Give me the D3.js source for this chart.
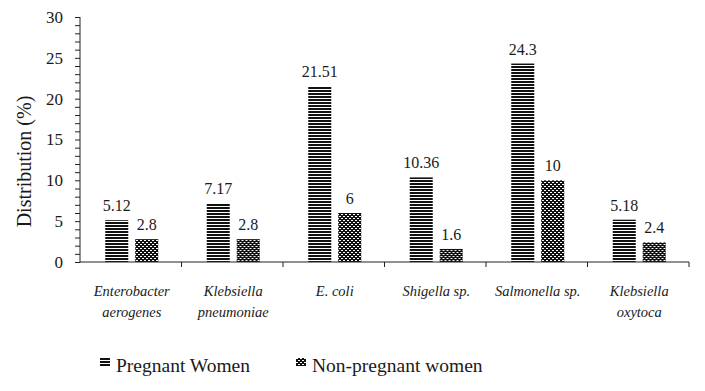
<!DOCTYPE html>
<html>
<head>
<meta charset="utf-8">
<script src="https://cdn.jsdelivr.net/npm/d3@7"></script>
<style>
  body { margin: 0; background: #fff; }
  text { font-family: "Liberation Serif", "Times New Roman", serif; fill: #1a1a1a; }
</style>
</head>
<body>
<svg id="chart"></svg>
<script>
// chart size
const width = 705, height = 391;

// data
const categories = [
  ['Enterobacter', 'aerogenes'],
  ['Klebsiella', 'pneumoniae'],
  ['E. coli'],
  ['Shigella sp.'],
  ['Salmonella sp.'],
  ['Klebsiella', 'oxytoca']
];
const catKeys = categories.map(c => c.join(' '));
const seriesNames = ['Pregnant Women', 'Non-pregnant women'];
const pregnant = [5.12, 7.17, 21.51, 10.36, 24.3, 5.18];
const nonPregnant = [2.8, 2.8, 6, 1.6, 10, 2.4];
const yTicks = [0, 5, 10, 15, 20, 25, 30];

const svg = d3.select('#chart').attr('width', width).attr('height', height);

// patterns for the bars
const defs = svg.append('defs');
const hLines = defs.append('pattern').attr('id', 'hlines')
  .attr('patternUnits', 'userSpaceOnUse').attr('width', 4).attr('height', 3);
hLines.append('rect').attr('width', 4).attr('height', 3).attr('fill', '#fff');
hLines.append('rect').attr('width', 4).attr('height', 2).attr('fill', '#111');

const dots = defs.append('pattern').attr('id', 'dots')
  .attr('patternUnits', 'userSpaceOnUse').attr('width', 4).attr('height', 4);
dots.append('rect').attr('width', 4).attr('height', 4).attr('fill', '#111');
dots.append('rect').attr('x', 0).attr('y', 0).attr('width', 2).attr('height', 1).attr('fill', '#fff');
dots.append('rect').attr('x', 2).attr('y', 2).attr('width', 2).attr('height', 1).attr('fill', '#fff');

const fills = ['url(#hlines)', 'url(#dots)'];

// scales
const x0 = d3.scaleBand().domain(catKeys).range([80, 689]).padding(0);
const groupW = 53;
const x1 = d3.scaleBand().domain(seriesNames)
  .range([x0.bandwidth() / 2 - groupW / 2 + 1, x0.bandwidth() / 2 + groupW / 2 + 1])
  .paddingInner(0.233);
const y = d3.scaleLinear().domain([0, 30]).range([262, 17]);

// bars
const rows = catKeys.map((k, i) => ({ key: k, values: [pregnant[i], nonPregnant[i]] }));

const groups = svg.selectAll('g.cat').data(rows).enter().append('g')
  .attr('class', 'cat')
  .attr('transform', d => `translate(${x0(d.key)},0)`);

groups.selectAll('rect').data(d => d.values.map((v, j) => ({ s: seriesNames[j], v, j })))
  .enter().append('rect')
  .attr('x', d => x1(d.s))
  .attr('y', d => y(d.v))
  .attr('width', x1.bandwidth())
  .attr('height', d => y(0) - y(d.v))
  .attr('fill', d => fills[d.j]);

groups.selectAll('text.val').data(d => d.values.map((v, j) => ({ s: seriesNames[j], v })))
  .enter().append('text')
  .attr('class', 'val')
  .attr('x', d => x1(d.s) + x1.bandwidth() / 2)
  .attr('y', d => y(d.v) - 9)
  .attr('text-anchor', 'middle')
  .attr('font-size', 16)
  .text(d => d.v);

// y axis with minor ticks
const yAxis = svg.append('g').attr('transform', 'translate(80,0)')
  .call(d3.axisLeft(y).tickValues(d3.range(0, 31, 1)).tickSize(5).tickFormat(''));
yAxis.selectAll('line').attr('stroke', '#222');
yAxis.select('.domain').attr('stroke', '#222').attr('d', `M0,${y(30)}V${y(0) + 0.5}`);

svg.append('g').selectAll('text').data(yTicks).enter().append('text')
  .attr('x', 63)
  .attr('y', d => y(d))
  .attr('dy', '0.35em')
  .attr('text-anchor', 'end')
  .attr('font-size', 17)
  .text(d => d);

// x axis
const xAxis = svg.append('g').attr('transform', `translate(0,${y(0)})`);
xAxis.append('line').attr('x1', 80).attr('x2', 689).attr('stroke', '#222');
xAxis.selectAll('line.tk').data(catKeys.slice(1).map(k => x0(k)).concat([689]))
  .enter().append('line').attr('class', 'tk')
  .attr('x1', d => d).attr('x2', d => d)
  .attr('y1', 0).attr('y2', 5).attr('stroke', '#222');

// category labels (italic, wrapped)
const labels = svg.append('g').selectAll('text').data(categories).enter().append('text')
  .attr('text-anchor', 'middle')
  .attr('font-size', 14.5)
  .attr('font-style', 'italic')
  .attr('transform', (d, i) => `translate(${x0(catKeys[i]) + x0.bandwidth() / 2 + 1},296)`);
labels.selectAll('tspan').data(d => d).enter().append('tspan')
  .attr('x', 0)
  .attr('dy', (d, i) => i === 0 ? 0 : 21)
  .text(d => d);

// y title
svg.append('text')
  .attr('transform', `translate(31,${y(15) + 22}) rotate(-90)`)
  .attr('text-anchor', 'middle')
  .attr('font-size', 20)
  .text('Distribution (%)');

// legend
const legendX = [100, 296];
const legend = svg.append('g').selectAll('g').data(seriesNames).enter().append('g')
  .attr('transform', (d, i) => `translate(${legendX[i]},358)`);
legend.append('rect')
  .attr('width', 10).attr('height', 8)
  .attr('fill', (d, i) => fills[i]);
legend.append('text')
  .attr('x', 16).attr('y', 14)
  .attr('font-size', 19.5)
  .text(d => d);
</script>
</body>
</html>
